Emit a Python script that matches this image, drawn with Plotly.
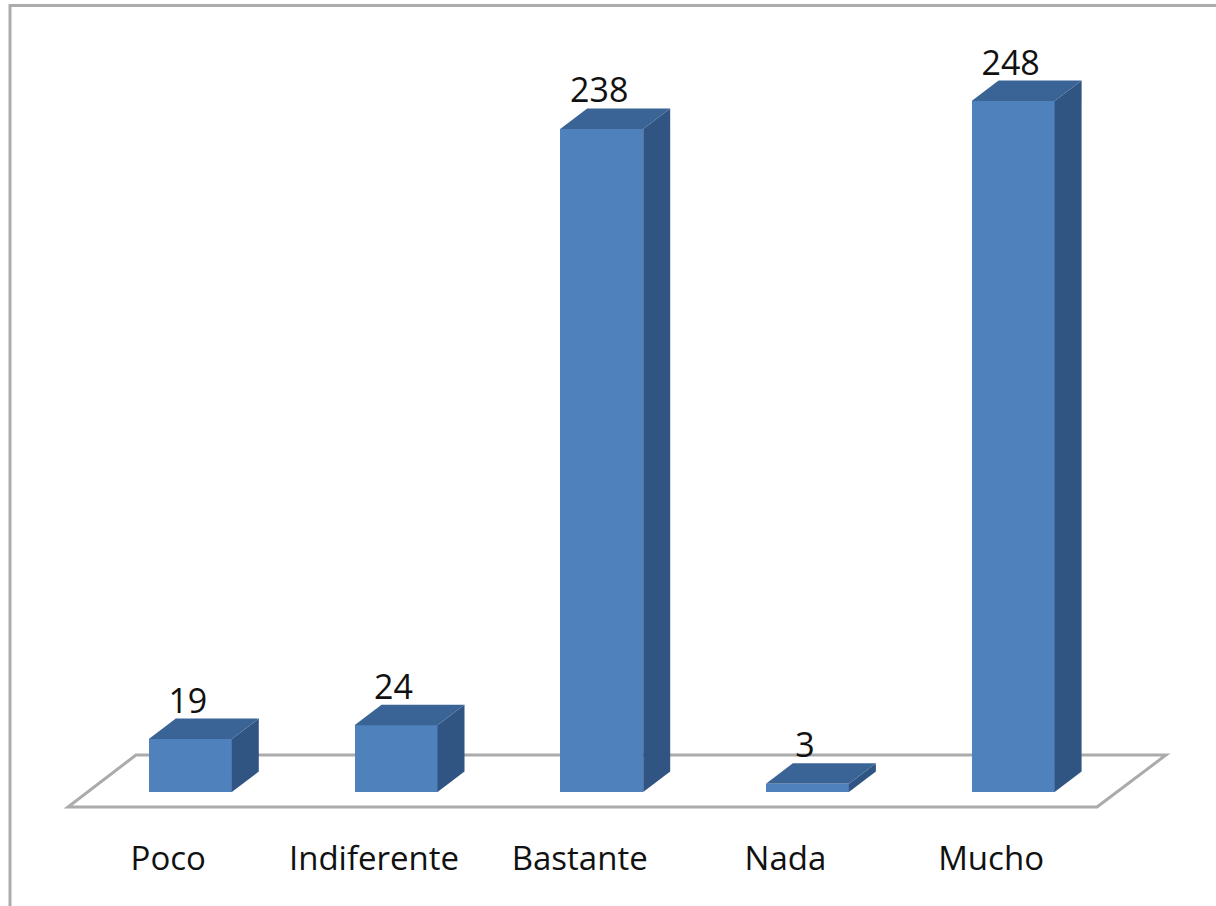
import plotly.graph_objects as go

categories = ["Poco", "Indiferente", "Bastante", "Nada", "Mucho"]
values = [19, 24, 238, 3, 248]

W, H = 1216, 906
PLOT_BOTTOM = 824
BASE_PX = 792
TOP_PX = 0
PX_PER_VALUE = 2.786
PX_PER_CAT = 205.7
FIRST_CENTER_PX = 190.3

FRONT = "#4F81BD"
TOP = "#3A6496"
SIDE = "#315582"
GRID = "#ABABAB"
TEXT = "#111111"
FONT = "'Open Sans', sans-serif"

BAR_W = 83 / PX_PER_CAT
DX = 27 / PX_PER_CAT
DY = 20.5 / PX_PER_VALUE
LABEL_SHIFT = -22 / PX_PER_CAT
VALUE_LABEL_DROP = 2.5 / PX_PER_VALUE

x_range = [-FIRST_CENTER_PX / PX_PER_CAT, (W - FIRST_CENTER_PX) / PX_PER_CAT]
y_range = [-(PLOT_BOTTOM - BASE_PX) / PX_PER_VALUE, (BASE_PX - TOP_PX) / PX_PER_VALUE]

fig = go.Figure()
idx = list(range(len(categories)))

fig.add_trace(go.Bar(x=idx, y=values, width=BAR_W, marker=dict(color=FRONT, line=dict(width=0)),
                     hoverinfo="skip", showlegend=False))

for i, v in zip(idx, values):
    l, r = i - BAR_W / 2, i + BAR_W / 2
    fig.add_trace(go.Scatter(x=[r, r + DX, r + DX, r, r], y=[0, DY, v + DY, v, 0], mode="lines",
                             fill="toself", fillcolor=SIDE, line=dict(width=0), hoverinfo="skip",
                             showlegend=False))
    fig.add_trace(go.Scatter(x=[l, r, r + DX, l + DX, l], y=[v, v, v + DY, v + DY, v], mode="lines",
                             fill="toself", fillcolor=TOP, line=dict(width=0), hoverinfo="skip",
                             showlegend=False))

fig.add_trace(go.Scatter(x=[i - 0.012 for i in idx], y=[v + DY - VALUE_LABEL_DROP for v in values],
                         mode="text", text=[str(v) for v in values], textposition="top center",
                         textfont=dict(family=FONT, size=34, color=TEXT, weight=500), cliponaxis=False,
                         hoverinfo="skip", showlegend=False))

# floor parallelogram, in axis units relative to the zero line
fy0 = -(807 - BASE_PX) / PX_PER_VALUE
fy1 = (BASE_PX - 755) / PX_PER_VALUE
fx0 = (68 - FIRST_CENTER_PX) / PX_PER_CAT
fx1 = (1097 - FIRST_CENTER_PX) / PX_PER_CAT
fx2 = (1166 - FIRST_CENTER_PX) / PX_PER_CAT
fx3 = (136 - FIRST_CENTER_PX) / PX_PER_CAT
floor_path = f"M {fx0} {fy0} L {fx1} {fy0} L {fx2} {fy1} L {fx3} {fy1} Z"

shapes = [
    dict(type="path", path=floor_path, xref="x", yref="y", layer="below",
         line=dict(color=GRID, width=3), fillcolor="white"),
    dict(type="rect", xref="paper", yref="paper", x0=10 / W, x1=1.05,
         y0=-0.2, y1=1 - 5.5 / PLOT_BOTTOM, layer="below",
         line=dict(color=GRID, width=3), fillcolor="rgba(0,0,0,0)"),
]

fig.update_layout(
    width=W, height=H, autosize=False,
    margin=dict(l=0, r=0, t=0, b=H - PLOT_BOTTOM, pad=0),
    paper_bgcolor="white", plot_bgcolor="white",
    showlegend=False, shapes=shapes, bargap=0,
    xaxis=dict(range=x_range, tickmode="array", tickvals=[i + LABEL_SHIFT for i in idx],
               ticktext=categories,
               showgrid=False, zeroline=False, showline=False, ticks="outside",
               ticklen=5, tickcolor="rgba(0,0,0,0)",
               tickfont=dict(family=FONT, size=33, color=TEXT, weight=500)),
    yaxis=dict(range=y_range, visible=False, showgrid=False, zeroline=False),
)

fig.write_html("out.html", config={"displayModeBar": False},
               post_script="document.body.style.margin='0';document.documentElement.style.overflow='hidden';")
